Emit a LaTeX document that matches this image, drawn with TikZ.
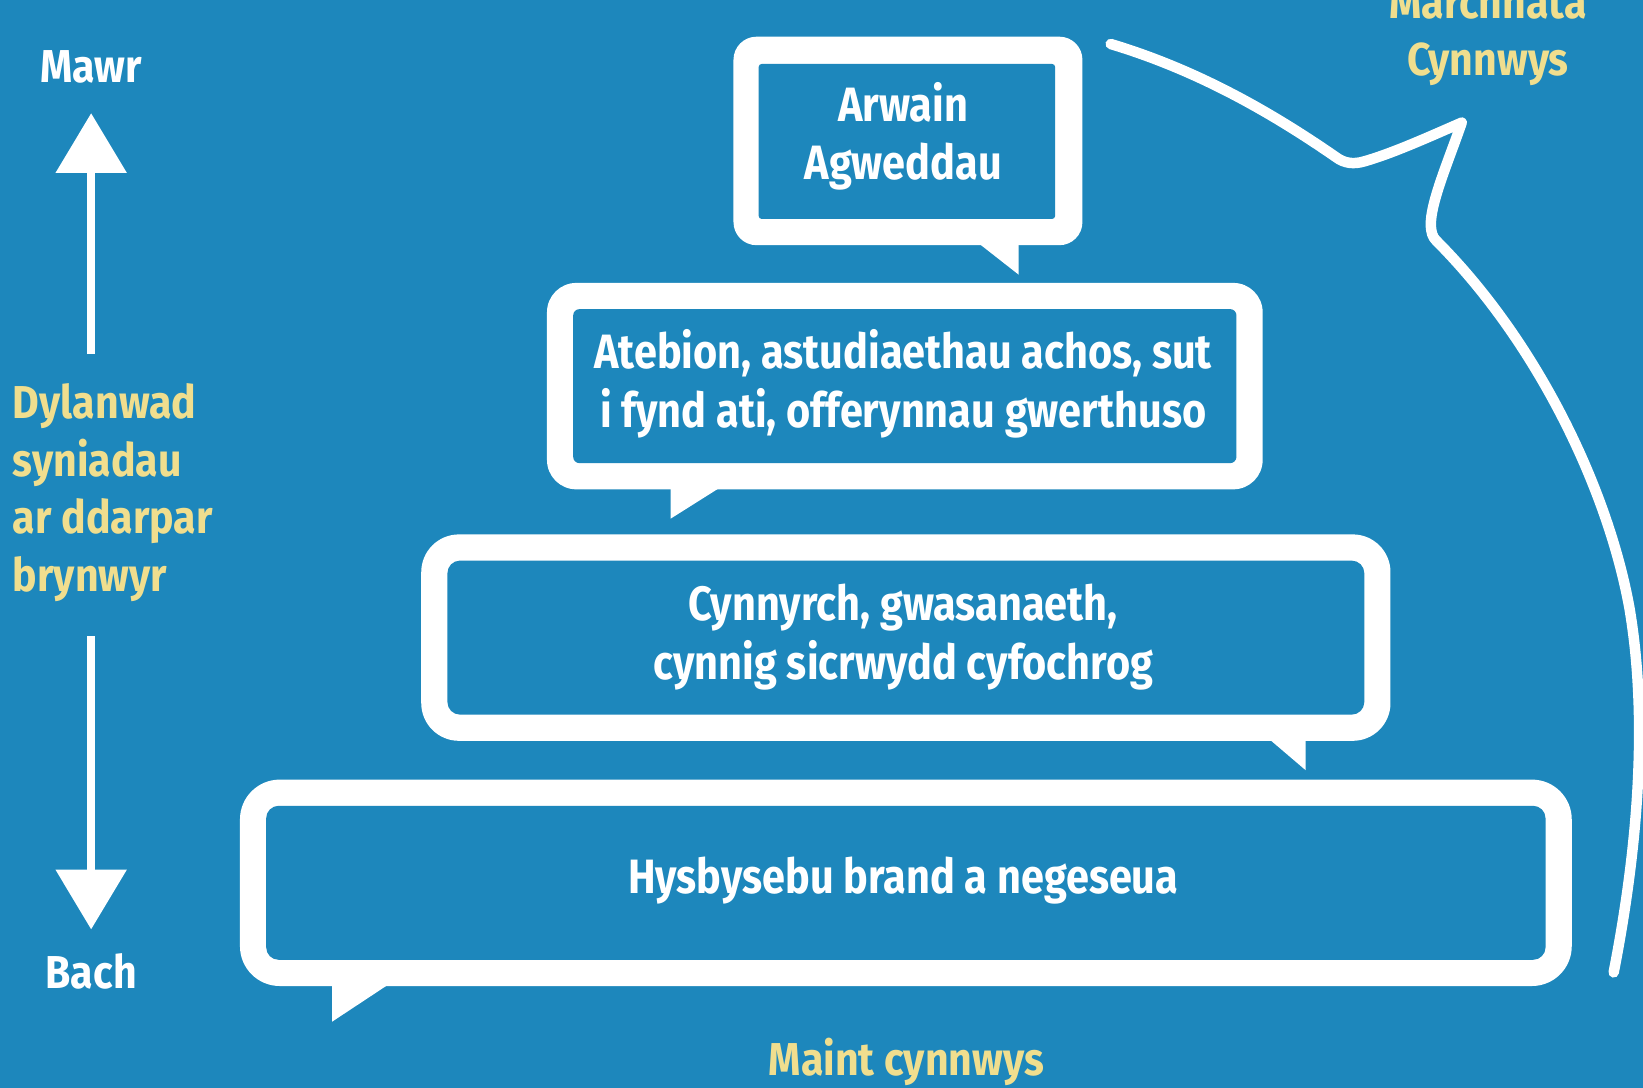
\documentclass[tikz,border=0pt]{standalone}
\usepackage{fontspec}
\setmainfont{Fira Sans}
\newfontfamily\condfont{Fira Sans}[FakeStretch=0.86]
\newfontfamily\semifont{Fira Sans}[FakeStretch=0.89]
\usetikzlibrary{arrows.meta}
\definecolor{bgblue}{RGB}{29,135,188}
\definecolor{ylw}{RGB}{240,222,142}
\begin{document}
\begin{tikzpicture}[x=0.5pt,y=-0.5pt,
  boxtext/.style={text=white, font=\condfont\bfseries\fontsize{23}{28}\selectfont, align=center, inner sep=0pt},
  sidetext/.style={text=white, font=\semifont\bfseries\fontsize{22}{27.5}\selectfont, align=center, inner sep=0pt},
  ylwtext/.style={text=ylw, font=\semifont\bfseries\fontsize{22}{27.5}\selectfont, align=left, inner sep=0pt},
  ylwcond/.style={text=ylw, font=\semifont\bfseries\fontsize{22}{27.5}\selectfont, align=center, inner sep=0pt},
  bigarrow/.style={white, line width=4pt, -{Triangle[width=33pt,length=28.5pt]}},
  curveline/.style={white, line width=5pt, line cap=round, line join=round},
  outerbox/.style={fill=white},
  innerbox/.style={fill=bgblue}
]
\useasboundingbox (0,0) rectangle (1568,1038);
\fill[bgblue] (0,0) rectangle (1568,1038);

% Box 1
\fill[outerbox, rounded corners=11pt] (700,35) rectangle (1033,234);
\fill[outerbox] (935,233) -- (972,233) -- (972,262) -- cycle;
\fill[innerbox, rounded corners=1.5pt] (724,61) rectangle (1007,209);
\node[boxtext] (b1) at (862,130) {Arwain\\Agweddau};

% Box 2
\fill[outerbox, rounded corners=14pt] (522,270) rectangle (1205,467);
\fill[outerbox] (640,466) -- (686,466) -- (640,495) -- cycle;
\fill[innerbox, rounded corners=3pt] (547,295) rectangle (1180,442);
\node[boxtext] (b2) at (862,366) {Atebion, astudiaethau achos, sut\\i fynd ati, offerynnau gwerthuso};

% Box 3
\fill[outerbox, rounded corners=18pt] (402,510) rectangle (1327,707);
\fill[outerbox] (1212,706) -- (1246,706) -- (1246,735) -- cycle;
\fill[innerbox, rounded corners=6pt] (427,535) rectangle (1302,682);
\node[boxtext] (b3) at (862,608) {Cynnyrch, gwasanaeth,\\cynnig sicrwydd cyfochrog};

% Box 4
\fill[outerbox, rounded corners=19pt] (229,744) rectangle (1500,941);
\fill[outerbox] (317,940) -- (370,940) -- (317,975) -- cycle;
\fill[innerbox, rounded corners=6pt] (254,769) rectangle (1475,916);
\node[boxtext] (b4) at (862,840) {Hysbysebu brand a negeseua};

% Left axis
\node[sidetext] (mawr) at (87,64) {Mawr};
\node[sidetext] (bach) at (87,927) {Bach};
\coordinate (upS) at (87,338);
\coordinate (upE) at (87,108);
\coordinate (dnS) at (87,607);
\coordinate (dnE) at (87,887);
\draw[bigarrow] (upS) -- (upE);
\draw[bigarrow] (dnS) -- (dnE);
\node[ylwtext, anchor=west] (dyl) at (12,470) {Dylanwad\\syniadau\\ar ddarpar\\brynwyr};

% Bottom label
\node[ylwcond] (maint) at (865,1013) {Maint cynnwys};

% Top-right label
\node[ylwcond] (march) at (1420,33) {Marchnata\\Cynnwys};

% Curve
\coordinate (cv0) at (1060,42);
\coordinate (cv1) at (1540,928);
\draw[curveline] (cv0) .. controls (1140,66) and (1210,105) .. (1275,150)
  .. controls (1283,156) and (1292,157) .. (1302,154)
  .. controls (1330,146) and (1365,130) .. (1395,117)
  .. controls (1382,155) and (1362,200) .. (1366,220)
  .. controls (1367,226) and (1369,228) .. (1372,231)
  .. controls (1470,330) and (1535,470) .. (1555,580)
  .. controls (1572,680) and (1565,800) .. (cv1);
\end{tikzpicture}
\end{document}
